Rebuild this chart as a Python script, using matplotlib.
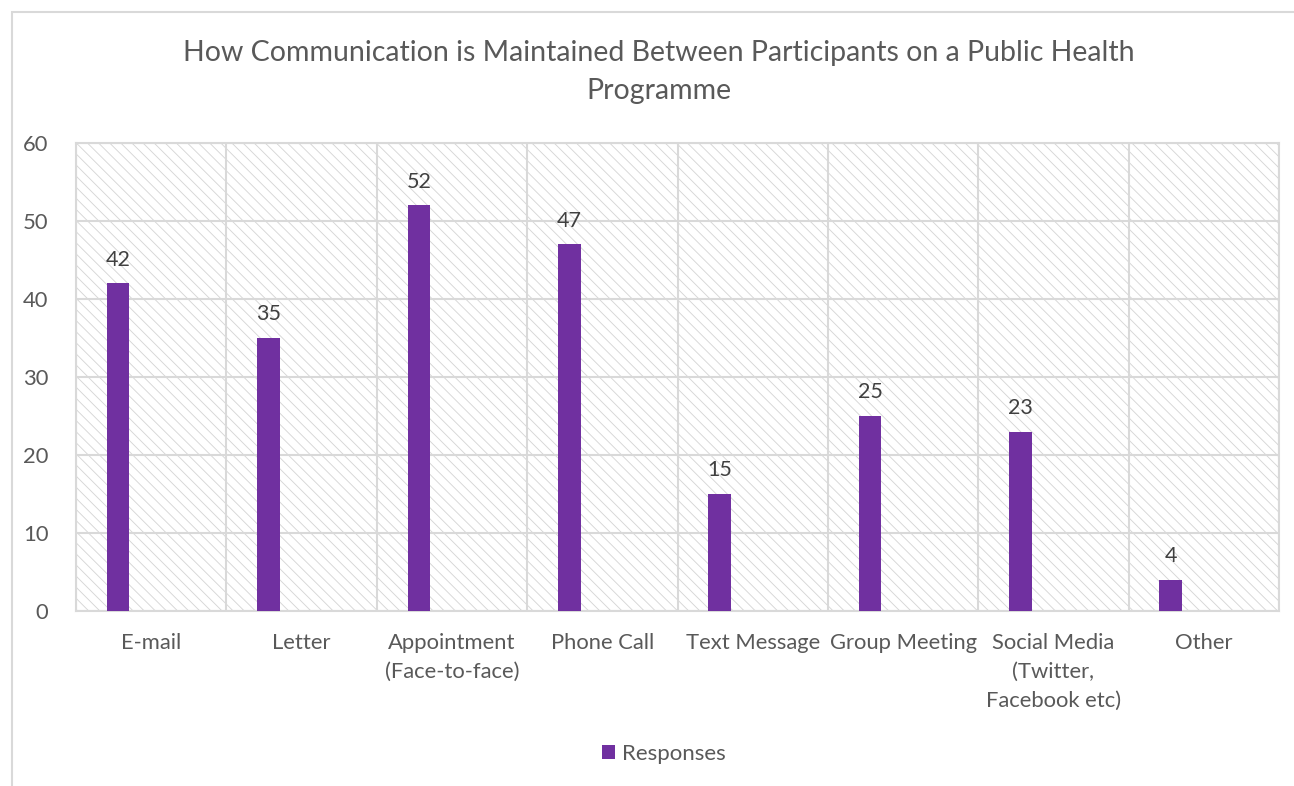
import matplotlib.pyplot as plt
import numpy as np
from matplotlib.patches import Rectangle

plt.rcParams['font.family'] = ['Lato', 'DejaVu Sans']
plt.rcParams['hatch.color'] = '#d6d6d6'
plt.rcParams['hatch.linewidth'] = 0.65

categories = ['E-mail', 'Letter', 'Appointment\n(Face-to-face)', 'Phone Call',
              'Text Message', 'Group Meeting', 'Social Media\n(Twitter,\nFacebook etc)', 'Other']
responses = [42, 35, 52, 47, 15, 25, 23, 4]

TEXT = '#595959'
PURPLE = '#7030a0'
GRID = '#d9d9d9'

fig = plt.figure(figsize=(12.94, 7.86), dpi=100)

# light frame around the whole chart
fig.patches.append(Rectangle((12 / 1294, -0.1), 1.2, 1 - 12 / 786 + 0.1,
                             transform=fig.transFigure, fill=False,
                             edgecolor=GRID, linewidth=1.5, zorder=0))

ax = fig.add_axes([76 / 1294, 1 - 611 / 786, (1279 - 76) / 1294, (611 - 143) / 786])

# hatched plot area
ax.add_patch(Rectangle((0, 0), 1, 1, transform=ax.transAxes, facecolor='white',
                       hatch='\\' * 3, edgecolor='#d6d6d6', linewidth=0, zorder=0))

x = np.arange(len(categories))
bars = ax.bar(x - 0.22, responses, width=0.15, color=PURPLE, zorder=3, label='Responses')
for xi, v in zip(x, responses):
    ax.annotate(str(v), (xi - 0.22, v), xytext=(0, 10), textcoords='offset points',
                ha='center', va='bottom', fontsize=15.5, color='#404040')

ax.set_xlim(-0.5, len(categories) - 0.5)
ax.set_ylim(0, 60)
ax.set_yticks(range(0, 61, 10))
ax.set_xticks(x)
ax.set_xticklabels(categories, fontsize=15.8, color=TEXT, linespacing=1.55)
ax.set_xticks(np.arange(-0.5, len(categories), 1), minor=True)
ax.tick_params(axis='y', labelsize=15.8, labelcolor=TEXT, length=0, pad=20)
ax.tick_params(axis='x', which='both', length=0, pad=16)

ax.grid(axis='y', color=GRID, linewidth=1.5, zorder=1)
ax.grid(axis='x', which='minor', color=GRID, linewidth=1.5, zorder=1)
ax.set_axisbelow(True)
for s in ax.spines.values():
    s.set_color(GRID)
    s.set_linewidth(1.5)

fig.text(659 / 1294, 1 - 72 / 786,
         'How Communication is Maintained Between Participants on a Public Health\nProgramme',
         ha='center', va='center', fontsize=20.5, color=TEXT, linespacing=1.58)

fig.legend(handles=[bars], labels=['Responses'], loc='center', bbox_to_anchor=(664 / 1294, 1 - 754 / 786),
           frameon=False, fontsize=16, labelcolor=TEXT, handlelength=0.6, handleheight=0.6,
           handletextpad=0.3)

fig.savefig('out.png', dpi=100)
